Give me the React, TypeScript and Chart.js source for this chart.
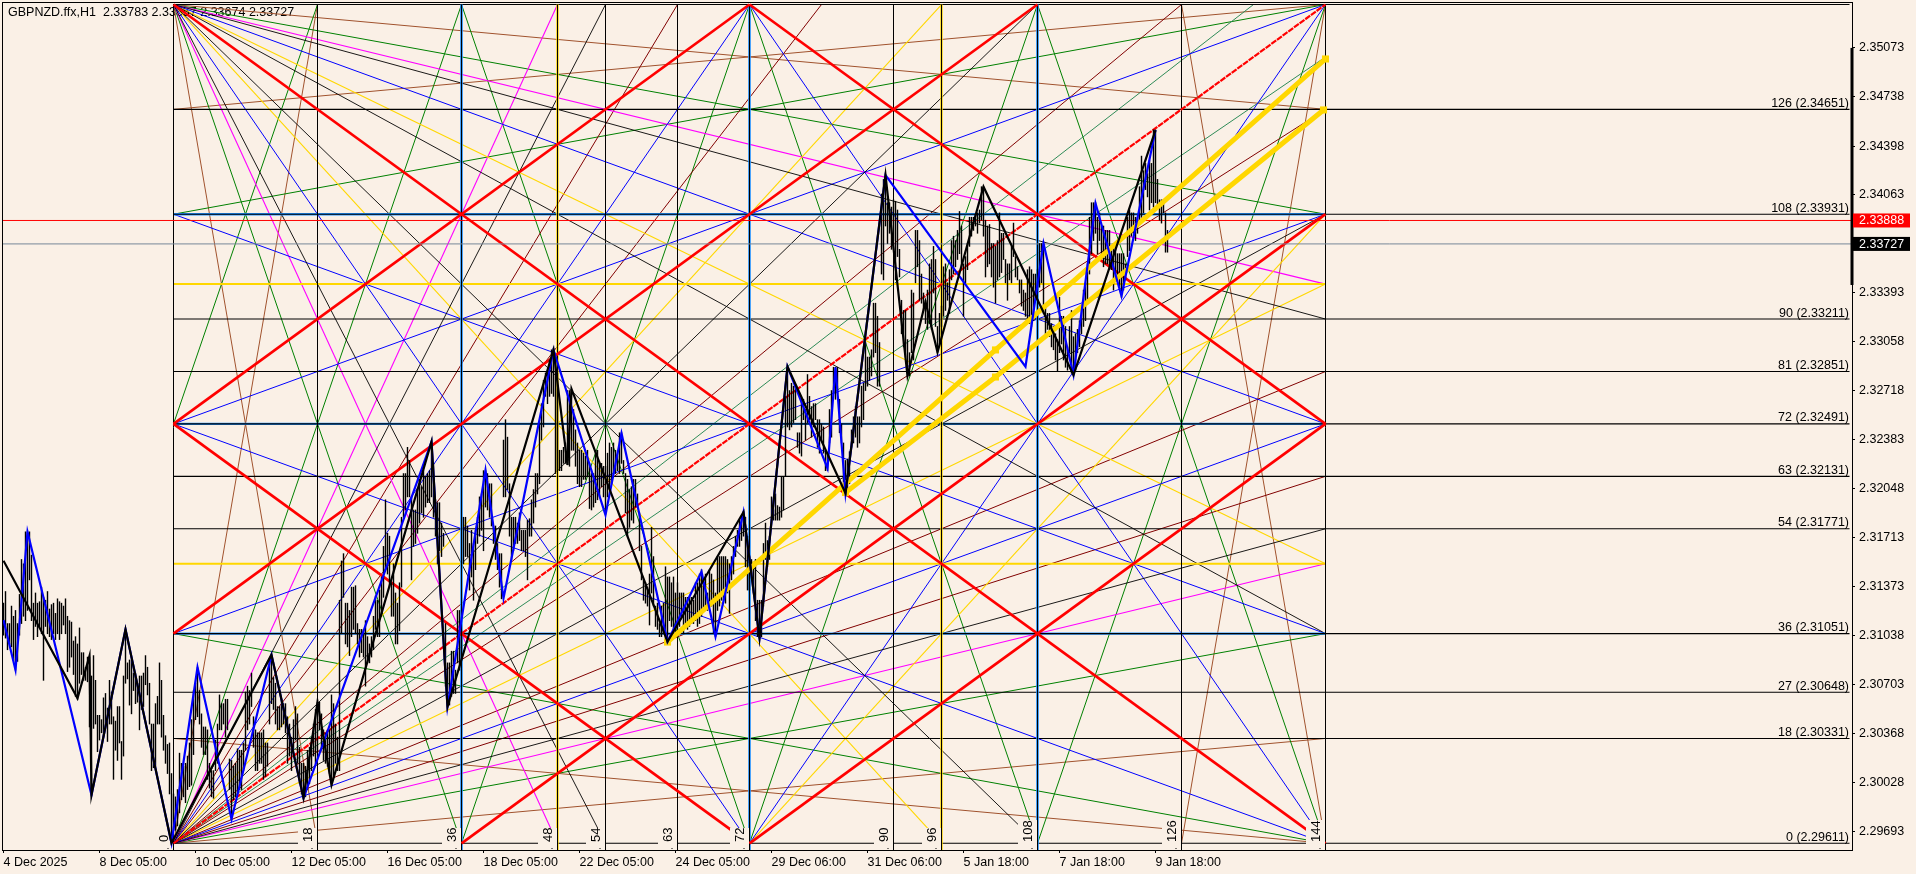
import React, { useEffect, useRef } from "react";
import { Chart, registerables } from "chart.js";

Chart.register(...registerables);

// ---------- price axis ----------
const PRICE_MIN = 2.29565;
const PRICE_MAX = 2.353814;
const INDEX_MIN = -0.25;
const INDEX_MAX = 924.25;
const PRICE_TICKS = [2.35073, 2.34738, 2.34398, 2.34063, 2.33393, 2.33058, 2.32718, 2.32383, 2.32048, 2.31713, 2.31373, 2.31038, 2.30703, 2.30368, 2.30028, 2.29693];
const TIME_TICK_INDEX = [0, 48, 96, 144, 192, 240, 288, 336, 384, 432, 480, 528, 576];
const TIME_TICK_LABELS = ["4 Dec 2025", "8 Dec 05:00", "10 Dec 05:00", "12 Dec 05:00", "16 Dec 05:00", "18 Dec 05:00", "22 Dec 05:00", "24 Dec 05:00", "29 Dec 06:00", "31 Dec 06:00", "5 Jan 18:00", "7 Jan 18:00", "9 Jan 18:00"];
const TITLE = "GBPNZD.ffx,H1  2.33783 2.33857 2.33674 2.33727";
const BID = 2.33888;
const LAST = 2.33727;
const SCALE_BAR = [2.35073, 2.33445];

// ---------- Gann box ----------
const BOX_START_INDEX = 85;
const BARS_PER_UNIT = 4;
const BOX_BASE_PRICE = 2.29611;
const PRICE_PER_UNIT = 0.0004;
const LEVEL_NAMES = [0, 18, 27, 36, 54, 63, 72, 81, 90, 108, 126];
const LEVEL_PRICES = [2.29611, 2.30331, 2.30648, 2.31051, 2.31771, 2.32131, 2.32491, 2.32851, 2.33211, 2.33931, 2.34651];
const LEVEL_BLUE = [36, 72, 108];
const LEVEL_GOLD = [48, 96];
const LEVEL_TOP = 144;
const LEVEL_LINE_END_INDEX = 923;
const TIME_UNITS = [0, 18, 36, 48, 54, 63, 72, 90, 96, 108, 126, 144];
const TIME_BLUE = [36, 72, 108];
const TIME_GOLD = [48, 96];
const TIME_LABELS = [0, 18, 36, 48, 54, 63, 72, 90, 96, 108, 126, 144];

// fan and grid segments: [time0, level0, time1, level1] in box units
const RED_THICK = [[0, 144, 144, 0], [0, 72, 72, 144], [0, 72, 72, 0], [72, 144, 144, 72], [72, 0, 144, 72], [0, 36, 108, 144], [36, 0, 144, 108]];
const RED_MAIN = [[0, 0, 144, 144]];
const BROWN = [[0, 144, 144, 126], [0, 126, 144, 144], [0, 18, 144, 0], [0, 0, 144, 18], [0, 144, 18, 0], [0, 0, 18, 144], [126, 144, 144, 0], [126, 0, 144, 144]];
const GREEN = [[0, 144, 144, 108], [0, 108, 144, 144], [0, 36, 144, 0], [0, 0, 144, 36], [0, 0, 36, 144], [0, 144, 36, 0], [18, 144, 0, 72], [36, 144, 72, 0], [36, 0, 72, 144], [72, 144, 108, 0], [72, 0, 108, 144], [108, 144, 144, 0], [108, 0, 144, 144]];
const BLUE = [[0, 144, 144, 72], [0, 144, 72, 0], [0, 0, 144, 72], [0, 0, 72, 144], [0, 108, 144, 36], [0, 72, 144, 144], [0, 72, 144, 0], [0, 36, 144, 108], [72, 144, 144, 0], [72, 0, 144, 144]];
const YELLOW = [[0, 144, 144, 48], [0, 144, 96, 0], [0, 0, 144, 96], [0, 0, 96, 144], [72, 0, 144, 108]];
const BLACK = [[0, 144, 144, 90], [0, 144, 144, 36], [0, 144, 54, 0], [0, 144, 108, 0], [0, 0, 144, 54], [0, 0, 144, 108], [0, 0, 54, 144], [0, 0, 108, 144]];
const MAGENTA = [[0, 144, 144, 96], [0, 144, 48, 0], [0, 0, 144, 48], [0, 0, 48, 144]];
const MAROON = [[0, 0, 144, 63], [0, 0, 144, 81], [0, 0, 144, 126], [0, 0, 63, 144], [0, 0, 81, 144], [0, 0, 126, 144]];
const SEA = [[0, 0, 144, 135], [0, 0, 135, 144]];

// ---------- zigzags and trend lines: bar index / price ----------
const ZZ_BLACK_INDEX = [0, 37, 43, 44, 61, 84, 134, 150, 157, 164, 214, 222, 275, 282, 284, 332, 370, 378, 392, 421, 441, 452, 461, 467, 490, 535, 576];
const ZZ_BLACK_PRICE = [2.31552, 2.30607, 2.30899, 2.29943, 2.31081, 2.29613, 2.30904, 2.29922, 2.30583, 2.30011, 2.32369, 2.30549, 2.32999, 2.32209, 2.32731, 2.30995, 2.31886, 2.31023, 2.32884, 2.32015, 2.342, 2.3282, 2.3333, 2.32983, 2.3412, 2.32827, 2.34509];
const ZZ_BLUE_INDEX = [0, 6, 12, 44, 61, 84, 97, 114, 134, 150, 214, 222, 241, 250, 275, 301, 309, 332, 349, 356, 370, 378, 392, 412, 416, 421, 441, 511, 520, 535, 546, 559, 576];
const ZZ_BLUE_PRICE = [2.31144, 2.30801, 2.31751, 2.29943, 2.31081, 2.29613, 2.3082, 2.29776, 2.30904, 2.29922, 2.32369, 2.30549, 2.32174, 2.31294, 2.32999, 2.31865, 2.32427, 2.30995, 2.31476, 2.3103, 2.31886, 2.31023, 2.32884, 2.32186, 2.3288, 2.32015, 2.342, 2.32884, 2.33731, 2.32827, 2.34006, 2.33369, 2.34509];
const TREND_A_INDEX = [332, 496, 661];
const TREND_A_PRICE = [2.30993, 2.32999, 2.34997];
const TREND_B_INDEX = [421, 496, 660];
const TREND_B_PRICE = [2.3202, 2.32813, 2.34647];

// ---------- H1 bars, one pair per bar, in 0.0001 above 2.29 ----------
const BAR_BASE = 2.29;
const BAR_HIGH = [
226,234,212,212,224,217,221,212,232,256, 253,275,275,275,259,226,233,226,227,237,
230,228,234,222,225,226,219,229,227,226, 224,229,217,214,213,200,203,198,209,192,
192,182,189,189,176,190,173,149,149,146, 161,164,154,173,165,148,145,155,155,131,
176,208,185,187,187,178,178,171,176,176, 178,190,182,171,143,143,157,162,185,173,
149,135,129,130,109,95,93,98,123,116, 114,116,121,130,146,166,171,182,166,150,
141,141,139,116,111,111,132,143,163,157, 157,160,160,119,118,114,116,126,125,125,
130,165,169,166,178,148,139,137,137,137, 139,130,130,185,190,175,171,155,155,160,
157,157,148,143,134,146,155,150,127,116, 116,114,125,127,134,143,153,158,158,150,
139,137,139,139,163,157,143,134,228,255, 260,226,226,221,237,237,238,212,208,208,
208,214,203,198,203,217,231,228,235,244, 265,297,274,272,240,253,233,226,240,285,
315,315,333,324,299,290,290,304,311,306, 317,313,315,317,337,322,297,295,295,281,
274,212,185,185,193,193,180,221,221,207, 285,285,279,267,276,267,276,285,299,301,
317,317,315,308,308,279,279,267,260,260, 338,352,340,308,285,285,285,281,288,276,
276,276,283,284,297,304,315,315,350,363, 379,384,384,393,400,401,395,384,331,331,
333,336,372,372,372,359,345,336,331,331, 329,327,331,322,315,315,331,331,322,322,
320,320,329,336,333,336,331,327,343,343, 324,315,311,304,306,311,311,301,288,265,
242,240,237,246,278,258,224,226,212,224, 226,251,244,244,240,244,233,240,233,233,
233,230,230,230,230,228,240,240,246,249, 240,246,233,249,246,242,233,258,258,258,
258,258,256,253,258,265,272,276,283,285, 289,285,272,258,256,253,256,228,228,228,
267,281,269,272,299,290,301,293,292,313, 313,368,388,372,377,375,375,343,343,366,
366,359,383,368,361,363,363,352,352,349, 347,331,329,359,372,388,388,388,366,349,
336,324,325,330,345,354,361,354,354,375, 377,405,395,395,400,432,432,423,405,507,
517,520,501,501,498,503,502,496,469,434, 427,427,407,398,441,439,482,482,475,452,
439,434,441,459,462,471,462,416,425,430, 457,459,446,455,475,478,475,482,495,485,
459,464,473,491,491,491,493,494,496,512, 512,489,485,486,473,473,471,475,494,480,
480,462,459,459,471,487,464,457,448,448, 441,439,455,457,455,452,452,455,473,473,
473,430,425,425,418,416,411,407,436,423, 423,416,402,416,427,409,411,414,420,430,
441,446,459,491,501,501,501,491,494,485, 485,482,482,482,468,473,471,466,466,466,
466,459,491,496,494,494,491,491,512,533, 523,528,521,530,528,551,551,517,503,503,
503,494,482];
const BAR_LOW = [
204,202,194,198,196,187,180,186,204,212, 217,214,221,242,214,201,210,203,210,205,
173,210,205,203,201,205,201,205,201,205, 211,205,179,182,189,177,162,160,171,177,
173,173,172,141,94,140,143,124,132,137, 134,141,131,143,143,105,125,118,130,105,
121,171,174,156,150,166,157,158,139,153, 155,170,163,143,111,113,114,143,143,134,
125,116,109,95,62,70,70,73,82,91, 93,89,98,100,101,122,146,148,143,127,
122,122,105,99,93,92,111,116,139,139, 143,134,139,98,77,91,93,95,98,98,
111,125,139,143,155,127,111,111,116,116, 105,107,114,143,157,153,143,139,139,141,
143,137,116,121,111,125,132,116,102,95, 92,93,98,102,111,121,116,125,139,125,
118,116,114,109,101,107,116,111,111,205, 230,198,196,190,203,208,205,198,189,192,
189,169,185,185,189,194,208,203,203,217, 230,249,246,237,217,217,198,198,207,237,
285,290,299,299,242,265,267,274,281,288, 285,292,295,295,299,285,272,253,262,258,
265,169,155,156,162,164,164,185,180,187, 253,258,258,235,244,228,249,267,272,276,
262,292,290,285,279,267,256,249,237,229, 299,299,304,272,256,262,267,267,269,262,
262,258,242,272,272,281,292,301,308,338, 347,368,363,368,370,368,315,317,317,317,
322,322,321,320,331,331,320,308,306,306, 311,311,313,291,290,292,295,297,299,306,
299,287,299,304,308,315,315,317,315,322, 315,288,272,278,283,281,292,292,262,242,
228,226,224,211,233,224,210,208,203,203, 205,201,200,214,210,205,205,203,210,217,
205,210,208,210,212,212,214,210,212,217, 221,221,221,224,224,205,203,221,224,228,
228,226,233,219,242,246,258,265,265,269, 272,251,235,235,246,233,214,203,202,203,
224,256,251,256,283,283,283,283,283,285, 290,313,347,345,347,350,352,333,329,327,
352,338,350,352,340,347,352,333,329,338, 329,317,317,336,340,370,366,370,343,336,
304,301,301,308,333,336,340,333,336,347, 352,372,375,379,382,395,398,375,375,452,
448,485,473,480,469,475,448,464,450,411, 402,395,382,382,398,393,446,457,434,432,
427,418,414,418,414,439,416,398,404,416, 423,427,434,425,448,452,457,462,466,457,
423,446,455,471,478,482,485,480,487,489, 478,450,457,459,450,443,432,448,450,453,
462,446,434,448,446,464,450,448,439,430, 427,423,420,418,416,420,434,441,443,446,
425,411,414,409,402,400,393,385,398,404, 393,388,386,398,384,383,386,398,402,411,
416,420,432,452,466,475,480,466,475,464, 457,459,459,455,455,441,450,448,443,436,
441,448,464,468,478,480,475,480,487,491, 494,510,505,496,501,498,501,498,489,487,
494,467,467];

// ---------- helpers ----------
const FONT = "Liberation Sans";
const BG = "#FAF0E6";
const toIndex = (u: number) => BOX_START_INDEX + BARS_PER_UNIT * u;
const levelPrice = (v: number) => BOX_BASE_PRICE + PRICE_PER_UNIT * v;

function seg(s: number[], color: string, width: number, order: number, dash?: number[]) {
  return line([{ x: toIndex(s[0]), y: levelPrice(s[1]) }, { x: toIndex(s[2]), y: levelPrice(s[3]) }], color, width, order, dash);
}
function line(data: { x: number; y: number }[], color: string, width: number, order: number, dash?: number[]) {
  return { type: "line", data, borderColor: color, borderWidth: width, borderDash: dash || [], pointRadius: 0, tension: 0, fill: false, order, borderCapStyle: "butt", borderJoinStyle: "miter" } as any;
}
function zip(xs: number[], ys: number[]) {
  return xs.map((x, i) => ({ x, y: ys[i] }));
}

const overlay = {
  id: "overlay",
  beforeDatasetsDraw(chart: any) {
    const c = chart.ctx;
    c.save();
    c.fillStyle = "#000";
    c.font = `12.5px "${FONT}"`;
    c.textAlign = "left";
    c.textBaseline = "middle";
    c.fillText(TITLE, 8, 13);
    c.restore();
  },
  afterDatasetsDraw(chart: any) {
    const c = chart.ctx;
    const xS = chart.scales.x;
    const yS = chart.scales.y;
    const { left, right, top, bottom } = chart.chartArea;
    c.save();
    // time labels of the box
    c.font = `13px "${FONT}"`;
    TIME_LABELS.forEach((u) => {
      const xv = xS.getPixelForValue(toIndex(u));
      const text = String(u);
      if (u > 0) {
        const h = text.length > 2 ? 30 : 22;
        c.fillStyle = BG;
        c.fillRect(xv - 19.5, bottom - h, 19, h);
      }
      c.save();
      c.translate(xv - 5.5, bottom - 8);
      c.rotate(-Math.PI / 2);
      c.fillStyle = "#000";
      c.textAlign = "left";
      c.textBaseline = "alphabetic";
      c.fillText(text, 0, 0);
      c.restore();
      c.fillStyle = "#000";
      c.fillRect(xv - 6, bottom - 2, 1, 1);
    });
    // level labels
    c.font = `12.5px "${FONT}"`;
    c.fillStyle = "#000";
    c.textAlign = "right";
    c.textBaseline = "alphabetic";
    LEVEL_NAMES.forEach((v, i) => {
      const y = yS.getPixelForValue(LEVEL_PRICES[i]);
      c.fillText(`${v} (${LEVEL_PRICES[i].toFixed(5)})`, right - 3, y - 2.5);
    });
    // frame
    c.strokeStyle = "#000";
    c.lineWidth = 1;
    c.strokeRect(left - 0.5, top - 0.5, right - left + 1, bottom - top + 1);
    // thick scale bar on the price axis
    c.lineWidth = 3;
    c.beginPath();
    c.moveTo(right, yS.getPixelForValue(SCALE_BAR[0]));
    c.lineTo(right, yS.getPixelForValue(SCALE_BAR[1]));
    c.stroke();
    // price tags
    [[BID, "#FF0000"], [LAST, "#000000"]].forEach(([p, col]: any) => {
      const y = yS.getPixelForValue(p);
      c.fillStyle = col;
      c.fillRect(right + 1, y - 7, 57, 14);
      c.fillStyle = "#fff";
      c.textAlign = "left";
      c.textBaseline = "middle";
      c.fillText(p.toFixed(5), right + 7, y + 0.5);
    });
    c.restore();
  },
};

export default function App() {
  const ref = useRef<HTMLCanvasElement>(null);
  useEffect(() => {
    const datasets: any[] = [];
    // fans and grids
    BROWN.forEach((s) => datasets.push(seg(s, "#A0522D", 1, 40)));
    GREEN.forEach((s) => datasets.push(seg(s, "#008000", 1, 39)));
    SEA.forEach((s) => datasets.push(seg(s, "#2E8B57", 1, 38)));
    MAROON.forEach((s) => datasets.push(seg(s, "#800000", 1, 37)));
    MAGENTA.forEach((s) => datasets.push(seg(s, "#FF00FF", 1.1, 36)));
    YELLOW.forEach((s) => datasets.push(seg(s, "#FFD700", 1.1, 35)));
    BLUE.forEach((s) => datasets.push(seg(s, "#0000FF", 1, 34)));
    BLACK.forEach((s) => datasets.push(seg(s, "#000000", 0.9, 33)));
    // horizontal and vertical levels
    const blackEnd = LEVEL_LINE_END_INDEX;
    LEVEL_GOLD.forEach((v) => datasets.push(line([{ x: toIndex(0), y: levelPrice(v) }, { x: toIndex(144), y: levelPrice(v) }], "#FFD700", 2, 32)));
    LEVEL_BLUE.forEach((v) => datasets.push(line([{ x: toIndex(0), y: levelPrice(v) }, { x: toIndex(144), y: levelPrice(v) }], "#1E90FF", 2.4, 31)));
    [...LEVEL_PRICES, levelPrice(LEVEL_TOP)].forEach((p) => datasets.push(line([{ x: toIndex(0), y: p }, { x: blackEnd, y: p }], "#000000", 1.1, 30)));
    TIME_BLUE.forEach((u) => datasets.push(line([{ x: toIndex(u), y: PRICE_MIN }, { x: toIndex(u), y: levelPrice(LEVEL_TOP) }], "#1E90FF", 2.6, 29)));
    TIME_GOLD.forEach((u) => datasets.push(line([{ x: toIndex(u), y: PRICE_MIN }, { x: toIndex(u), y: levelPrice(LEVEL_TOP) }], "#FFD700", 2.4, 29)));
    TIME_UNITS.forEach((u) => datasets.push(line([{ x: toIndex(u), y: PRICE_MIN }, { x: toIndex(u), y: levelPrice(LEVEL_TOP) }], "#000000", 1, 28)));
    // red diagonals
    RED_THICK.forEach((s) => datasets.push(seg(s, "#FF0000", 2.7, 27)));
    RED_MAIN.forEach((s) => datasets.push(seg(s, "#FF0000", 2.2, 27, [6, 1])));
    // current price lines
    datasets.push(line([{ x: INDEX_MIN, y: BID }, { x: INDEX_MAX, y: BID }], "#FF0000", 1, 26));
    datasets.push(line([{ x: INDEX_MIN, y: LAST }, { x: INDEX_MAX, y: LAST }], "#778899", 1, 26));
    // bars
    datasets.push({
      type: "bar",
      data: BAR_HIGH.map((h, i) => ({ x: i, y: [BAR_BASE + BAR_LOW[i] / 10000, BAR_BASE + h / 10000] })),
      backgroundColor: "#000000",
      borderWidth: 0,
      barThickness: 0.75,
      grouped: false,
      order: 4,
    });
    // trend lines, above the bars
    [[TREND_A_INDEX, TREND_A_PRICE], [TREND_B_INDEX, TREND_B_PRICE]].forEach(([xs, ys]) => {
      const d = line(zip(xs, ys), "#FFD700", 5, 3);
      d.pointRadius = 5;
      d.pointStyle = "rect";
      d.pointBackgroundColor = "#FFD700";
      d.pointBorderWidth = 0;
      datasets.push(d);
    });
    // zigzags
    datasets.push(line(zip(ZZ_BLUE_INDEX, ZZ_BLUE_PRICE), "#0000FF", 2.2, 2));
    datasets.push(line(zip(ZZ_BLACK_INDEX, ZZ_BLACK_PRICE), "#000000", 2.2, 1));

    const chart = new Chart(ref.current as HTMLCanvasElement, {
      type: "line",
      data: { datasets },
      plugins: [overlay],
      options: {
        animation: false,
        responsive: false,
        events: [],
        layout: { autoPadding: false, padding: { left: 3, top: 3, right: 0, bottom: 0 } },
        plugins: { legend: { display: false }, tooltip: { enabled: false } },
        scales: {
          x: {
            type: "linear",
            offset: false,
            min: INDEX_MIN,
            max: INDEX_MAX,
            afterBuildTicks: (s: any) => { s.ticks = TIME_TICK_INDEX.map((value) => ({ value })); },
            afterFit: (s: any) => { s.height = 24; s.paddingLeft = 0; s.paddingRight = 0; },
            grid: { drawOnChartArea: false, offset: false, tickLength: 3, color: "#000", tickColor: "#000" },
            border: { display: true, color: "#000" },
            ticks: {
              autoSkip: false,
              maxRotation: 0,
              align: "start",
              padding: 2,
              color: "#000",
              font: { family: FONT, size: 12.5 },
              callback: (v: any) => TIME_TICK_LABELS[TIME_TICK_INDEX.indexOf(v)],
            },
          },
          y: {
            type: "linear",
            position: "right",
            min: PRICE_MIN,
            max: PRICE_MAX,
            afterBuildTicks: (s: any) => { s.ticks = PRICE_TICKS.map((value) => ({ value })); },
            afterFit: (s: any) => { s.width = 64; s.paddingTop = 0; s.paddingBottom = 0; },
            grid: { drawOnChartArea: false, tickLength: 3, color: "#000", tickColor: "#000" },
            border: { display: true, color: "#000" },
            ticks: {
              autoSkip: false,
              padding: 4,
              color: "#000",
              font: { family: FONT, size: 12.5 },
              callback: (v: any) => Number(v).toFixed(5),
            },
          },
        },
      } as any,
    } as any);
    return () => chart.destroy();
  }, []);
  return (
    <div style={{ position: "fixed", left: 0, top: 0, width: 1916, height: 874, background: BG }}>
      <canvas ref={ref} width={1916} height={874} style={{ display: "block" }} />
    </div>
  );
}
